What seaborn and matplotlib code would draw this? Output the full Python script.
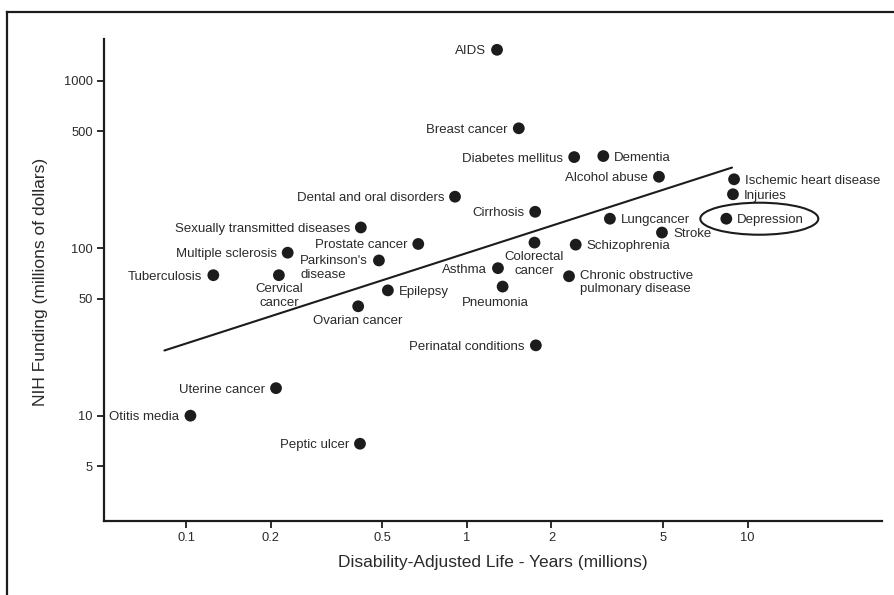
import matplotlib
matplotlib.use("Agg")
import matplotlib.pyplot as plt
from matplotlib.patches import Ellipse
from matplotlib.lines import Line2D
from matplotlib.transforms import ScaledTranslation
import seaborn as sns
import pandas as pd

# ---------------- data ----------------
diseases = [
    "AIDS", "Breast cancer", "Diabetes mellitus", "Dementia", "Alcohol abuse",
    "Ischemic heart disease", "Injuries", "Dental and oral disorders", "Cirrhosis",
    "Lungcancer", "Depression", "Sexually transmitted diseases", "Stroke",
    "Colorectal\ncancer", "Prostate cancer", "Schizophrenia", "Multiple sclerosis",
    "Parkinson's\ndisease", "Asthma", "Tuberculosis", "Cervical\ncancer",
    "Chronic obstructive\npulmonary disease", "Pneumonia", "Epilepsy",
    "Ovarian cancer", "Perinatal conditions", "Uterine cancer", "Otitis media",
    "Peptic ulcer",
]
daly_millions = [
    1.28, 1.53, 2.41, 3.06, 4.83,
    8.94, 8.86, 0.907, 1.75,
    3.23, 8.39, 0.419, 4.95,
    1.74, 0.671, 2.44, 0.230,
    0.486, 1.29, 0.125, 0.214,
    2.31, 1.34, 0.523,
    0.410, 1.76, 0.209, 0.1036,
    0.416,
]
funding_millions = [
    1530, 520, 350, 355, 267,
    258, 210, 203, 165,
    150, 150, 133, 124,
    108, 106, 105, 94,
    84.5, 76, 69, 69,
    68, 59, 56,
    45, 26.3, 14.6, 10.0,
    6.8,
]
trend_x = [0.0837, 8.79]
trend_y = [24.5, 303.0]

x_ticks = [0.1, 0.2, 0.5, 1, 2, 5, 10]
x_tick_labels = ["0.1", "0.2", "0.5", "1", "2", "5", "10"]
y_ticks = [5, 10, 50, 100, 500, 1000]
y_tick_labels = ["5", "10", "50", "100", "500", "1000"]

x_label = "Disability-Adjusted Life - Years (millions)"
y_label = "NIH Funding (millions of dollars)"
highlight = "Depression"

# ---------------- label placement (layout only) ----------------
# side: L = left of dot, R = right of dot, B = below dot ; extra (dx, dy) in pixels
placement = {
    "Colorectal\ncancer": ("B", 0, 0),
    "Cervical\ncancer": ("B", 0, 0),
    "Ovarian cancer": ("B", 0, 2),
    "Pneumonia": ("B", -7, 0),
    "Dementia": ("R", 0, 0),
    "Ischemic heart disease": ("R", 0, 0),
    "Injuries": ("R", 0, 0),
    "Lungcancer": ("R", 0, 0),
    "Depression": ("R", 0, 0),
    "Stroke": ("R", 0, 0),
    "Schizophrenia": ("R", 0, 0),
    "Chronic obstructive\npulmonary disease": ("R", 0, 0),
    "Epilepsy": ("R", 0, 0),
    "Parkinson's\ndisease": ("L", 0, -1),
}
LINE_STEP = 11.6  # pixel distance between lines of a wrapped label

INK = "#1c1c1c"
TXT = "#2a2a2a"

df = pd.DataFrame({"disease": diseases, "daly": daly_millions, "funding": funding_millions})

sns.set_theme(style="white")
plt.rcParams["font.family"] = ["Liberation Sans", "DejaVu Sans"]
plt.rcParams["text.color"] = TXT

fig = plt.figure(figsize=(8.95, 5.95), dpi=100)
ax = fig.add_axes([104 / 895, 1 - 521 / 595, (881.7 - 104) / 895, (521 - 39) / 595])

sns.lineplot(x=trend_x, y=trend_y, ax=ax, color=INK, linewidth=1.5, estimator=None)
sns.scatterplot(data=df, x="daly", y="funding", ax=ax, s=72, color=INK,
                edgecolor="none", linewidth=0, zorder=3)

ax.set_xscale("log")
ax.set_yscale("log")
ax.set_xlim(0.051, 30.0)
ax.set_ylim(2.35, 1775)

ax.minorticks_off()
ax.set_xticks(x_ticks)
ax.set_xticklabels(x_tick_labels)
ax.set_yticks(y_ticks)
ax.set_yticklabels(y_tick_labels)
ax.tick_params(axis="both", which="major", direction="out", length=5, width=1.3,
               color=INK, labelsize=9.3, labelcolor=TXT, pad=3,
               bottom=True, left=True)

for side in ["top", "right"]:
    ax.spines[side].set_visible(False)
for side in ["left", "bottom"]:
    ax.spines[side].set_color(INK)
    ax.spines[side].set_linewidth(1.6)

ax.set_xlabel(x_label, fontsize=12.5, color=TXT)
ax.set_ylabel(y_label, fontsize=12.5, color=TXT)
ax.xaxis.set_label_coords(0.5, -0.07)
ax.yaxis.set_label_coords(-0.072, 0.495)

# labels
for name, xv, yv in zip(diseases, daly_millions, funding_millions):
    side, ex, ey = placement.get(name, ("L", 0, 0))
    if side == "L":
        dx, dy, ha = -11, -4.5, "right"
    elif side == "R":
        dx, dy, ha = 11, -4.5, "left"
    else:
        dx, dy, ha = 0, -19.5, "center"
    # baseline alignment refers to the last line of a wrapped label
    dy -= LINE_STEP * name.count("\n")
    ax.annotate(name, xy=(xv, yv), xytext=(dx + ex, dy + ey),
                textcoords="offset pixels", ha=ha, va="baseline",
                multialignment="left" if side != "B" else "center",
                fontsize=9.5, color=TXT)

# ellipse around the highlighted point
hi = diseases.index(highlight)
trans = fig.dpi_scale_trans + ScaledTranslation(daly_millions[hi], funding_millions[hi], ax.transData)
ax.add_patch(Ellipse((0.33, 0.0), 1.18, 0.32, transform=trans, fill=False,
                     edgecolor=INK, linewidth=1.5, clip_on=False))

# outer frame (partially cropped, as in the reference)
fig.add_artist(Line2D([7 / 895, 7 / 895], [-0.01, 1 - 12 / 595], transform=fig.transFigure,
                      color=INK, linewidth=1.6, solid_capstyle="projecting"))
fig.add_artist(Line2D([7 / 895, 1.01], [1 - 12 / 595, 1 - 12 / 595], transform=fig.transFigure,
                      color=INK, linewidth=1.6, solid_capstyle="projecting"))

fig.savefig("out.png", dpi=100, facecolor="white")
